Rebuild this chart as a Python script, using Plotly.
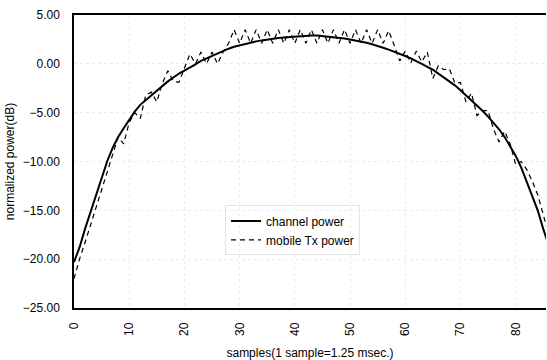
import plotly.graph_objects as go

# sample index (1 sample = 1.25 msec)
samples = list(range(0, 87))

# normalized channel power (dB)
channel_power = [
    -20.3, -18.8, -16.9, -15.2, -13.4, -11.6, -10.0, -8.6, -7.5, -6.6,
    -5.7, -4.9, -4.2, -3.7, -3.2, -2.7, -2.2, -1.8, -1.4, -1.0,
    -0.7, -0.4, -0.05, 0.3, 0.55, 0.85, 1.1, 1.35, 1.55, 1.75,
    1.9, 2.05, 2.2, 2.3, 2.4, 2.5, 2.6, 2.65, 2.7, 2.75,
    2.8, 2.85, 2.9, 2.9, 2.9, 2.85, 2.8, 2.75, 2.7, 2.6,
    2.5, 2.4, 2.3, 2.15, 2.0, 1.85, 1.65, 1.45, 1.25, 1.0,
    0.8, 0.55, 0.3, 0.0, -0.3, -0.6, -1.0, -1.4, -1.8, -2.2,
    -2.7, -3.2, -3.7, -4.2, -4.8, -5.4, -6.0, -6.7, -7.5, -8.4,
    -9.4, -10.6, -12.0, -13.5, -15.0, -16.9, -18.6,
]

# normalized mobile transmit power (dB)
tx_power = [
    -22.0, -20.0, -18.3, -16.5, -14.6, -12.7, -10.9, -9.3, -7.5, -8.2,
    -6.0, -5.0, -5.6, -3.2, -2.9, -3.9, -2.0, -0.7, -1.8, -1.9,
    -0.5, 1.0, 0.0, 1.2, 0.0, 1.2, 0.0, 1.2, 2.1, 3.5,
    2.1, 3.5, 2.1, 3.5, 2.1, 3.5, 2.1, 3.5, 2.1, 3.5,
    2.1, 3.5, 2.1, 3.5, 2.1, 3.5, 2.1, 3.5, 2.1, 3.5,
    2.1, 3.5, 2.1, 3.5, 2.1, 3.5, 2.1, 3.4, 1.9, 0.3,
    1.3, 0.1, 1.3, 0.2, 1.2, -1.5, -0.2, -0.6, -0.5, -2.0,
    -1.9, -3.9, -3.0, -5.3, -4.8, -4.8, -6.7, -8.0, -6.9, -8.2,
    -10.3, -10.0, -10.8, -12.0, -13.4, -15.4, -17.5,
]

x_ticks = [0, 10, 20, 30, 40, 50, 60, 70, 80]
y_ticks = [5, 0, -5, -10, -15, -20, -25]

font_family = "Liberation Sans, Arial, sans-serif"

fig = go.Figure()
fig.add_trace(go.Scatter(
    x=samples, y=channel_power, mode="lines", name="channel power",
    line=dict(color="black", width=2),
))
fig.add_trace(go.Scatter(
    x=samples, y=tx_power, mode="lines", name="mobile Tx power",
    line=dict(color="black", width=1.2, dash="5px,4px"),
))

fig.update_layout(
    width=547, height=360,
    margin=dict(l=74, r=1, t=15, b=52),
    paper_bgcolor="white", plot_bgcolor="white",
    font=dict(family=font_family, size=12, color="black"),
    showlegend=True,
    legend=dict(
        x=0.32, y=0.35, xanchor="left", yanchor="top",
        bgcolor="rgba(255,255,255,0)",
        bordercolor="#e2e2e2", borderwidth=1,
        font=dict(size=12),
    ),
)

fig.update_xaxes(
    range=[0, 85.5], tickvals=x_ticks, ticktext=[str(v) for v in x_ticks],
    tickangle=-90, ticklabelstandoff=8,
    showline=True, linecolor="black", linewidth=1.5, mirror=True,
    showgrid=True, gridcolor="#ececec", griddash="dot", gridwidth=1,
    zeroline=False, ticks="",
    title=dict(text="samples(1 sample=1.25 msec.)", standoff=14,
               font=dict(size=12)),
)
fig.update_yaxes(
    range=[-25, 5], tickvals=y_ticks, tickformat=".2f",
    ticklabelstandoff=10,
    showline=True, linecolor="black", linewidth=1.5,
    showgrid=True, gridcolor="#ececec", griddash="dot", gridwidth=1,
    zeroline=False, ticks="",
    title=dict(text="normalized power(dB)", standoff=6,
               font=dict(size=12)),
)

fig.write_html("out.html")
